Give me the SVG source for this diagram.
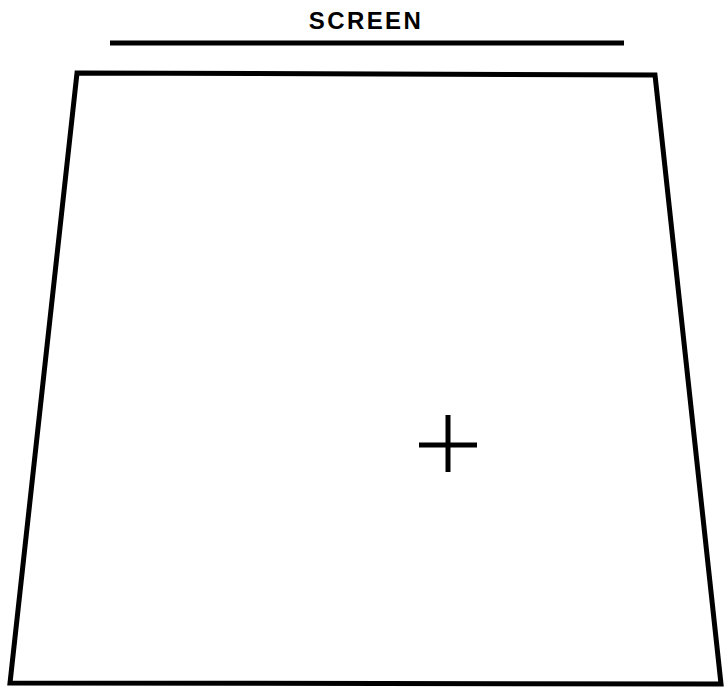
<svg xmlns="http://www.w3.org/2000/svg" width="724" height="692" viewBox="0 0 724 692">
<style>
.ln{stroke:#000;fill:none;stroke-width:5}
.lbl{font-family:"Liberation Sans",Arial,sans-serif;font-weight:bold;font-size:24px;letter-spacing:2.4px;fill:#000}
</style>
<rect width="724" height="692" fill="#fff"/>
<g id="screen-label">
<text class="lbl" x="366" y="28.5" text-anchor="middle">SCREEN</text>
<line class="ln" x1="110" y1="43" x2="624" y2="43" stroke-width="4.5"/>
</g>
<g id="screen">
<polygon class="ln" points="77,73 655,75 721,684 10,683" stroke-linejoin="miter"/>
</g>
<g id="crosshair">
<line class="ln" x1="419" y1="445" x2="477" y2="445" stroke-width="4"/>
<line class="ln" x1="448" y1="415" x2="448" y2="472" stroke-width="4"/>
</g>
</svg>
